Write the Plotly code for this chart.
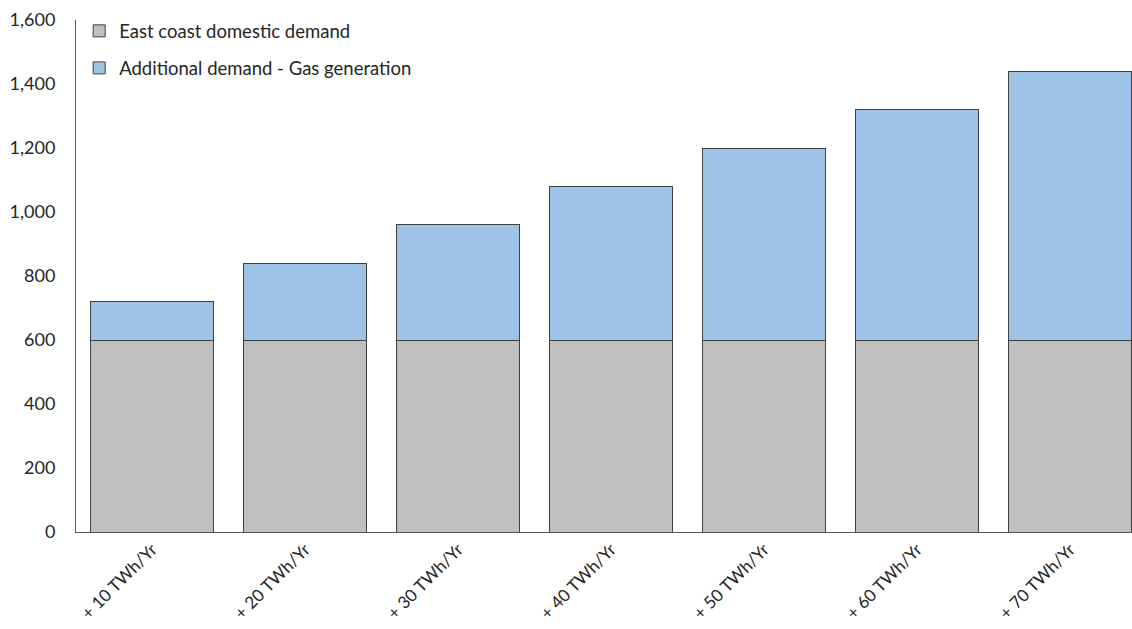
import plotly.graph_objects as go

categories = ["+ 10 TWh/Yr", "+ 20 TWh/Yr", "+ 30 TWh/Yr", "+ 40 TWh/Yr",
              "+ 50 TWh/Yr", "+ 60 TWh/Yr", "+ 70 TWh/Yr"]
domestic = [600, 600, 600, 600, 600, 600, 600]
additional = [120, 240, 360, 480, 600, 720, 840]
y_ticks = [0, 200, 400, 600, 800, 1000, 1200, 1400, 1600]
y_tick_labels = ["0", "200", "400", "600", "800", "1,000", "1,200", "1,400", "1,600"]

FONT = "Lato, 'Open Sans', sans-serif"

fig = go.Figure()
fig.add_trace(go.Bar(x=list(range(len(categories))), y=domestic, name="East coast domestic demand",
                     legendgroup="a",
                     marker=dict(color="#BFBFBF", line=dict(color="#404040", width=1)), width=0.8))
fig.add_trace(go.Bar(x=list(range(len(categories))), y=additional, name="Additional demand - Gas generation",
                     legendgroup="b",
                     marker=dict(color="#9DC3E6", line=dict(color="#404040", width=1)), width=0.8))

fig.update_layout(
    barmode="stack",
    width=1132, height=629,
    margin=dict(l=76, r=0, t=20, b=97),
    paper_bgcolor="white", plot_bgcolor="white",
    font=dict(family=FONT, size=18, color="#262626"),
    legend=dict(x=0.003, y=1.015, xanchor="left", yanchor="top", traceorder="grouped",
                tracegroupgap=10,
                font=dict(size=18.5, color="#262626"), itemwidth=30, bgcolor="rgba(0,0,0,0)"),
    xaxis=dict(range=[-0.497, 6.405], tickmode="array", tickvals=list(range(len(categories))),
               ticktext=categories, tickangle=-45, showline=True, linecolor="#595959", linewidth=1,
               ticks="", showgrid=False, zeroline=False, tickfont=dict(size=17)),
    yaxis=dict(range=[0, 1600], tickmode="array", tickvals=y_ticks, ticktext=y_tick_labels,
               showline=True, linecolor="#595959", linewidth=1, ticks="", showgrid=False,
               zeroline=False, tickfont=dict(size=18), ticklabelstandoff=16),
    showlegend=True,
)

fig.write_html("out.html")
